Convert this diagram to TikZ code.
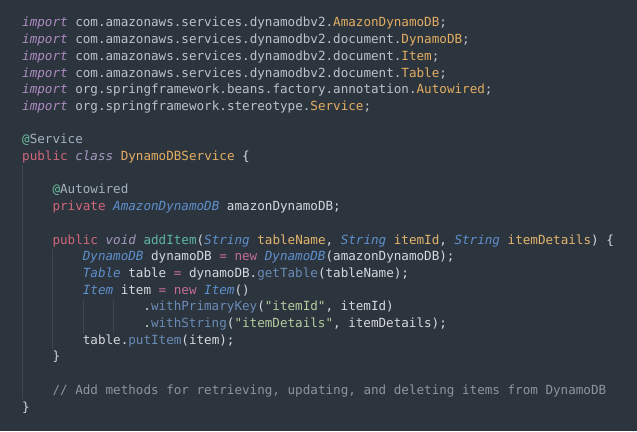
\documentclass[tikz,border=0pt]{standalone}
\usepackage{fontspec}
\setmonofont{DejaVu Sans Mono}
\usepackage{tikz}
\usetikzlibrary{positioning}

\definecolor{editorbg}{HTML}{2C343E}
\definecolor{plaintext}{HTML}{D6D9DD}
\definecolor{pathgrey}{HTML}{BCC2C8}
\definecolor{imppurple}{HTML}{AE8CC0}
\definecolor{clsorange}{HTML}{E3AE62}
\definecolor{keyred}{HTML}{D2687A}
\definecolor{softpurple}{HTML}{A49AC0}
\definecolor{typeblue}{HTML}{5E90CC}
\definecolor{annteal}{HTML}{6DBE9E}
\definecolor{anngrey}{HTML}{A6B2BE}
\definecolor{funteal}{HTML}{5FB8A0}
\definecolor{callblue}{HTML}{6A8CB6}
\definecolor{paryellow}{HTML}{E2B46C}
\definecolor{strgreen}{HTML}{B6CC9E}
\definecolor{oppink}{HTML}{C46E92}
\definecolor{commentgrey}{HTML}{8D949C}
\definecolor{guidegrey}{HTML}{3E4650}

\newcommand{\jimp}[1]{\textcolor{imppurple}{\itshape #1}}
\newcommand{\jpath}[1]{\textcolor{pathgrey}{#1}}
\newcommand{\jcls}[1]{\textcolor{clsorange}{#1}}
\newcommand{\jkey}[1]{\textcolor{keyred}{#1}}
\newcommand{\jsoft}[1]{\textcolor{softpurple}{\itshape #1}}
\newcommand{\jtype}[1]{\textcolor{typeblue}{\itshape #1}}
\newcommand{\jann}[1]{\textcolor{annteal}{@}\textcolor{anngrey}{#1}}
\newcommand{\jfun}[1]{\textcolor{funteal}{#1}}
\newcommand{\jcall}[1]{\textcolor{callblue}{#1}}
\newcommand{\jpar}[1]{\textcolor{paryellow}{#1}}
\newcommand{\jstr}[1]{\textcolor{strgreen}{#1}}
\newcommand{\jop}[1]{\textcolor{oppink}{#1}}

\begin{document}
\begin{tikzpicture}[x=1pt, y=1pt]
	\tikzstyle{codeline} = [anchor=base west, inner sep=0pt, text=plaintext, font=\ttfamily\fontsize{12.6}{16.7}\selectfont]
	\tikzstyle{guide} = [guidegrey, line width=0.8pt]

	\fill [editorbg] (0,0) rectangle (637,431);

	% indent guides
	\draw [guide] (22.5,265.7) -- (22.5,32);
	\draw [guide] (52.8,181.6) -- (52.8,82);
	\draw [guide] (83.1,131) -- (83.1,98);
	\draw [guide] (113.4,131) -- (113.4,98);

	% imports
	\node [codeline] (import1) at (22,404) {\jimp{import} \jpath{com.amazonaws.services.dynamodbv2.}\jcls{AmazonDynamoDB}\jpath{;}};
	\node [codeline] (import2) at (22,387.3) {\jimp{import} \jpath{com.amazonaws.services.dynamodbv2.document.}\jcls{DynamoDB}\jpath{;}};
	\node [codeline] (import3) at (22,370.6) {\jimp{import} \jpath{com.amazonaws.services.dynamodbv2.document.}\jcls{Item}\jpath{;}};
	\node [codeline] (import4) at (22,353.9) {\jimp{import} \jpath{com.amazonaws.services.dynamodbv2.document.}\jcls{Table}\jpath{;}};
	\node [codeline] (import5) at (22,337.2) {\jimp{import} \jpath{org.springframework.beans.factory.annotation.}\jcls{Autowired}\jpath{;}};
	\node [codeline] (import6) at (22,320.5) {\jimp{import} \jpath{org.springframework.stereotype.}\jcls{Service}\jpath{;}};

	% class
	\node [codeline] (annService) at (22,287.1) {\jann{Service}};
	\node [codeline] (classHead) at (22,270.4) {\jkey{public} \jsoft{class} \jcls{DynamoDBService} \{};
	\node [codeline] (annAutowired) at (52.32,237) {\jann{Autowired}};
	\node [codeline] (field) at (52.32,220.3) {\jkey{private} \jtype{AmazonDynamoDB} amazonDynamoDB;};

	% method
	\node [codeline] (methodHead) at (52.32,186.9) {\jkey{public} \jsoft{void} \jfun{addItem}(\jtype{String} \jpar{tableName}, \jtype{String} \jpar{itemId}, \jtype{String} \jpar{itemDetails}) \{};
	\node [codeline] (lineDynamo) at (82.64,170.2) {\jtype{DynamoDB} dynamoDB \jop{=} \jop{new} \jtype{DynamoDB}(amazonDynamoDB);};
	\node [codeline] (lineTable) at (82.64,153.5) {\jtype{Table} table \jop{=} dynamoDB.\jcall{getTable}(tableName);};
	\node [codeline] (lineItem) at (82.64,136.8) {\jtype{Item} item \jop{=} \jop{new} \jtype{Item}()};
	\node [codeline] (lineKey) at (143.28,120.1) {.\jcall{withPrimaryKey}(\jstr{"itemId"}, itemId)};
	\node [codeline] (lineString) at (143.28,103.4) {.\jcall{withString}(\jstr{"itemDetails"}, itemDetails);};
	\node [codeline] (linePut) at (82.64,86.7) {table.\jcall{putItem}(item);};
	\node [codeline] (methodEnd) at (52.32,70) {\}};

	\node [codeline, text=commentgrey] (comment) at (52.32,36.6) {// Add methods for retrieving, updating, and deleting items from DynamoDB};
	\node [codeline] (classEnd) at (22,19.9) {\}};
\end{tikzpicture}
\end{document}
